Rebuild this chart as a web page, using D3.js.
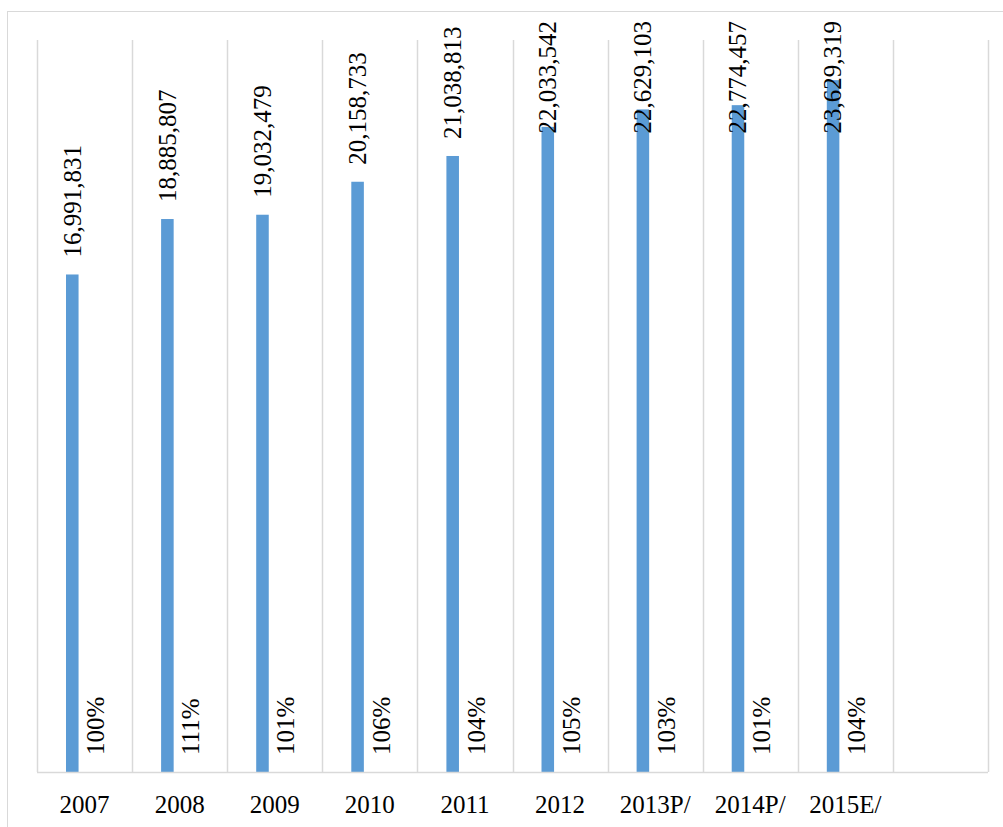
<!DOCTYPE html>
<html>
<head>
<meta charset="utf-8">
<script src="https://cdn.jsdelivr.net/npm/d3@7"></script>
<style>
	body { margin: 0; background: #fff; }
	text { font-family: "Liberation Serif", "Times New Roman", serif; fill: #000; }
</style>
</head>
<body>
<svg id="chart" width="1003" height="827" viewBox="0 0 1003 827"></svg>
<script>

// categories (last slot is an empty category in the original sheet)
const categories = ["2007", "2008", "2009", "2010", "2011", "2012", "2013P/", "2014P/", "2015E/", ""];
const values = [16991831, 18885807, 19032479, 20158733, 21038813, 22033542, 22629103, 22774457, 23629319];
const growth = [100, 111, 101, 106, 104, 105, 103, 101, 104];
const yDomain = [0, 25000000];

const FONT = "'Liberation Serif', 'Times New Roman', serif";

function whenDocumentLoaded(action) {
	if (document.readyState === "loading") {
		document.addEventListener("DOMContentLoaded", action);
	} else {
		action();
	}
}

whenDocumentLoaded(() => {
	const svg = d3.select("#chart");

	const plot = { left: 37, right: 988, top: 40, bottom: 772 };

	// outer chart border
	svg.append("rect")
		.attr("x", 7.5)
		.attr("y", 11.5)
		.attr("width", 1100)
		.attr("height", 900)
		.style("fill", "none")
		.style("stroke", "#d9d9d9")
		.style("stroke-width", "1px");

	const x = d3.scaleBand()
		.domain(categories)
		.range([plot.left, plot.right])
		.padding(0);

	const y = d3.scaleLinear()
		.domain(yDomain)
		.range([plot.bottom, plot.top]);

	const bw = x.bandwidth();

	// vertical gridlines at band edges
	const edges = categories.map(c => x(c)).concat([plot.right]);
	svg.append("g").selectAll("line")
		.data(edges)
		.enter().append("line")
			.attr("x1", d => Math.round(d) + 0.5)
			.attr("x2", d => Math.round(d) + 0.5)
			.attr("y1", plot.top)
			.attr("y2", plot.bottom)
			.style("stroke", "#d9d9d9")
			.style("stroke-width", "1.5px");

	const data = values.map((v, i) => ({ cat: categories[i], value: v, growth: growth[i] }));

	// bars
	svg.append("g").selectAll("rect")
		.data(data)
		.enter().append("rect")
			.attr("x", d => x(d.cat) + bw * 0.305)
			.attr("width", bw * 0.132)
			.attr("y", d => y(d.value))
			.attr("height", d => y(0) - y(d.value))
			.style("fill", "#5b9bd5");

	// baseline
	svg.append("line")
		.attr("x1", plot.left)
		.attr("x2", plot.right)
		.attr("y1", plot.bottom + 0.5)
		.attr("y2", plot.bottom + 0.5)
		.style("stroke", "#d9d9d9")
		.style("stroke-width", "1.5px");

	// category labels
	const xAxis = d3.axisBottom(x).tickSize(0).tickPadding(0);
	const axis_g = svg.append("g")
		.attr("transform", "translate(0," + plot.bottom + ")")
		.call(xAxis)
		.attr("font-family", FONT);
	axis_g.select(".domain").remove();
	axis_g.selectAll("text")
		.attr("y", 41)
		.attr("dy", 0)
		.style("font-size", "25px")
		.style("font-family", FONT);

	const fmt = d3.format(",");

	// value labels, rotated, above the bar (kept inside the chart top)
	const value_labels = svg.append("g").selectAll("text")
		.data(data)
		.enter().append("text")
			.style("font-size", "25px")
			.style("font-family", FONT)
			.attr("text-anchor", "start")
			.attr("dy", "0.33em")
			.text(d => fmt(d.value));

	value_labels.attr("transform", function(d) {
		const len = this.getComputedTextLength();
		const cx = x(d.cat) + bw * 0.305 + bw * 0.066;
		const yy = Math.max(y(d.value) - 17, 21 + len);
		return "translate(" + cx + "," + yy + ") rotate(-90)";
	});

	// growth labels near the base
	svg.append("g").selectAll("text")
		.data(data)
		.enter().append("text")
			.style("font-size", "25px")
			.style("font-family", FONT)
			.attr("text-anchor", "start")
			.attr("dy", "0.33em")
			.attr("transform", d => "translate(" + (x(d.cat) + bw * 0.62) + "," + (plot.bottom - 17) + ") rotate(-90)")
			.text(d => d.growth + "%");
});
</script>
</body>
</html>
